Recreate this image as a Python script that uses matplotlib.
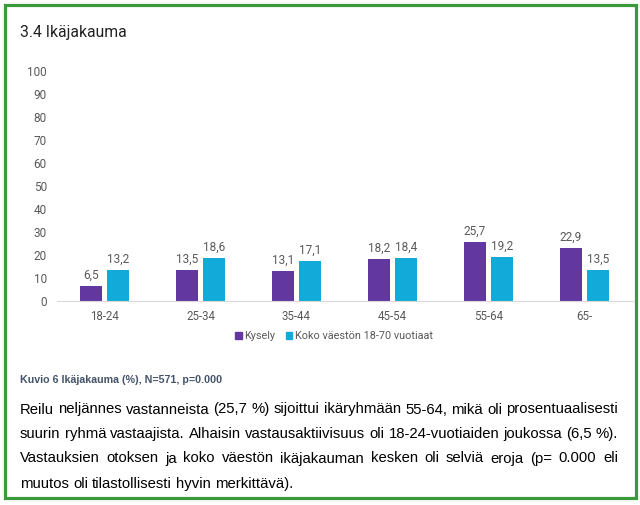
import numpy as np
import matplotlib
matplotlib.use("Agg")
import matplotlib.pyplot as plt
from matplotlib.patches import Rectangle, Patch
from matplotlib.font_manager import FontProperties

# data
groups = ["18-24", "25-34", "35-44", "45-54", "55-64", "65-"]
kysely = [6.5, 13.5, 13.1, 18.2, 25.7, 22.9]
vaesto = [13.2, 18.6, 17.1, 18.4, 19.2, 13.5]
series_names = ["Kysely", "Koko väestön 18-70 vuotiaat"]
title = "3.4 Ikäjakauma"
caption = "Kuvio 6 Ikäjakauma (%), N=571, p=0.000"
para_lines = [
    "Reilu neljännes vastanneista (25,7 %) sijoittui ikäryhmään 55-64, mikä oli prosentuaalisesti",
    "suurin ryhmä vastaajista. Alhaisin vastausaktiivisuus oli 18-24-vuotiaiden joukossa (6,5 %).",
    "Vastauksien otoksen ja koko väestön ikäjakauman kesken oli selviä eroja (p= 0.000 eli",
    "muutos oli tilastollisesti hyvin merkittävä).",
]

purple = "#6237A0"
cyan = "#12AAD8"
gray = "#595959"
W, H = 640, 505

fig = plt.figure(figsize=(6.4, 5.05), dpi=100)
fig.patch.set_facecolor("white")

def fx(px):
    return px / W

def fy(py):
    return 1 - py / H

# green frame
fig.patches.append(Rectangle((fx(5), fy(498)), fx(631), 493 / H, transform=fig.transFigure,
                             fill=False, edgecolor="#3A9A3A", linewidth=2.3))

fig.text(fx(20), fy(32), title, fontsize=11.3, family="Roboto", color="#222222", va="center")

ax = fig.add_axes([fx(56.5), fy(300.5), fx(576), (300.5 - 71.5) / H])
x = np.arange(len(groups))
w = 0.23
b1 = ax.bar(x - 0.14, kysely, w, color=purple)
b2 = ax.bar(x + 0.14, vaesto, w, color=cyan)
for bars, vals in ((b1, kysely), (b2, vaesto)):
    for r, v in zip(bars, vals):
        ax.annotate(f"{v:.1f}".replace(".", ","), (r.get_x() + r.get_width() / 2, v),
                    xytext=(0, 3), textcoords="offset points", ha="center", va="bottom",
                    fontsize=8.5, color=gray, family="Roboto")

ax.set_xlim(-0.5, 5.5)
ax.set_ylim(0, 100)
ax.set_yticks(range(0, 101, 10))
ax.set_xticks(x)
ax.set_xticklabels(groups)
for s in ["top", "right", "left"]:
    ax.spines[s].set_visible(False)
ax.spines["bottom"].set_color("#D9D9D9")
ax.tick_params(axis="both", length=0, labelcolor=gray)
ax.tick_params(axis="y", pad=7, labelsize=8.5)
ax.tick_params(axis="x", pad=6.5, labelsize=8.3)
for t in ax.get_xticklabels() + ax.get_yticklabels():
    t.set_family("Roboto")

handles = [Patch(color=purple), Patch(color=cyan)]
fig.legend(handles, series_names, loc="center", bbox_to_anchor=(fx(334), fy(336)), ncol=2,
           frameon=False, handlelength=0.6, handleheight=0.6, handletextpad=0.2,
           columnspacing=1.0, prop={"family": "Roboto", "size": 7.8}, labelcolor=gray)

fig.text(fx(20), fy(380), caption, fontsize=7.7, fontweight="bold", color="#44546A",
         family=["Liberation Sans Narrow", "Liberation Sans"], va="center")

# justified paragraph: place words, measure drawn extents, then spread them
prop = FontProperties(family="Liberation Sans", size=10.7)
left, right = 20, 618
baselines = [413.5, 438, 462.5, 488]
rows = []
for line, yy in zip(para_lines, baselines):
    rows.append([fig.text(0, fy(yy), wd, fontproperties=prop, color="black",
                          va="baseline", ha="left") for wd in line.split(" ")])
fig.canvas.draw()
renderer = fig.canvas.get_renderer()
space = fig.text(0, 0, "a a", fontproperties=prop).get_window_extent(renderer).width - \
    fig.text(0, 0, "aa", fontproperties=prop).get_window_extent(renderer).width
for t in fig.texts[-2:]:
    t.remove()
for i, row in enumerate(rows):
    widths = [t.get_window_extent(renderer).width for t in row]
    if i < len(rows) - 1:
        gap = (right - left - sum(widths)) / (len(row) - 1)
    else:
        gap = space
    cx = left
    for t, ww in zip(row, widths):
        t.set_x(fx(cx))
        cx += ww + gap

fig.savefig("out.png", dpi=100)
